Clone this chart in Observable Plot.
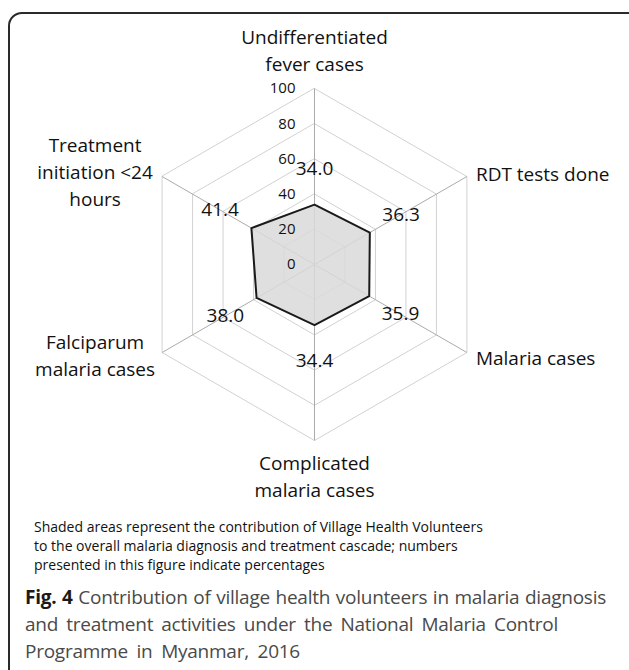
<!DOCTYPE html>
<html>
<head>
<meta charset="utf-8">
<script src="https://cdn.jsdelivr.net/npm/d3@7"></script>
<script src="https://cdn.jsdelivr.net/npm/@observablehq/plot@0.6"></script>
<style>
  html, body { margin: 0; padding: 0; background: #fff; }
  body { width: 629px; height: 670px; overflow: hidden; position: relative; font-family: "Open Sans", sans-serif; }
  #frame { position: absolute; left: 8px; top: 12px; width: 640px; height: 720px; border: 2px solid #2a2a2a; border-radius: 14px; box-sizing: border-box; }
  #chart { position: absolute; left: 0; top: -2px; }
  #note { position: absolute; left: 34px; top: 517px; font-size: 14px; line-height: 19px; color: #111; white-space: nowrap; }
  #caption { position: absolute; left: 25px; top: 584px; font-size: 19px; line-height: 27px; color: #4a4a4a; white-space: nowrap; letter-spacing: -0.25px; }
  #caption div { width: 581px; }
  #caption .j { text-align: justify; text-align-last: justify; }
  #caption .l3 { width: auto; word-spacing: 4px; }
  #caption b { color: #1a1a1a; }
</style>
</head>
<body>
<div id="frame"></div>
<div id="chart"></div>
<div id="note">Shaded areas represent the contribution of Village Health Volunteers<br>to the overall malaria diagnosis and treatment cascade; numbers<br>presented in this figure indicate percentages</div>
<div id="caption"><div class="j"><b>Fig. 4</b> Contribution of village health volunteers in malaria diagnosis</div><div class="j" style="width:533px">and treatment activities under the National Malaria Control</div><div class="l3">Programme in Myanmar, 2016</div></div>
<script>
const categories = [
  "Undifferentiated\nfever cases",
  "RDT tests done",
  "Malaria cases",
  "Complicated\nmalaria cases",
  "Falciparum\nmalaria cases",
  "Treatment\ninitiation <24\nhours"
];
const values = [34.0, 36.3, 35.9, 34.4, 38.0, 41.4];
const tickValues = [0, 20, 40, 60, 80, 100];

const n = categories.length;
const ang = i => (i * 2 * Math.PI) / n;
const px = (i, r) => r * Math.sin(ang(i));
const py = (i, r) => r * Math.cos(ang(i));

// grid rings
const rings = [];
for (const t of tickValues.filter(t => t > 0)) {
  for (let i = 0; i < n; i++) rings.push({t, x: px(i, t), y: py(i, t)});
}
// spokes
const spokes = categories.map((c, i) => ({i, x1: 0, y1: 0, x2: px(i, 100), y2: py(i, 100)}));
// data polygon
const poly = values.map((v, i) => ({x: px(i, v), y: py(i, v), v}));
// data labels
const labelR = v => v + 20.5;
const dataLabels = values.map((v, i) => ({x: px(i, labelR(v)), y: py(i, labelR(v)), text: v.toFixed(1)}));
// axis labels
const catLayout = categories.map((c, i) => {
  const a = ang(i);
  const s = Math.sin(a), co = Math.cos(a);
  let anchor = "middle", dx = 0, dy = 0;
  if (Math.abs(s) < 1e-6) { dy = co > 0 ? -40 : 34; }
  else if (s > 0) { anchor = "start"; dx = 9; dy = co > 0 ? -4 : 4; }
  else { anchor = "middle"; dx = -67; dy = co > 0 ? -6 : 1; }
  return {x: px(i, 100), y: py(i, 100), text: c, anchor, dx, dy};
});

const R = 176;
const cx = 314, cy = 266;
const chart = Plot.plot({
  width: 629,
  height: 512,
  margin: 0,
  x: {domain: [-100, 100], range: [cx - R, cx + R], axis: null},
  y: {domain: [-100, 100], range: [cy + R, cy - R], axis: null},
  style: {fontFamily: "Open Sans, sans-serif", color: "#111", background: "transparent"},
  marks: [
    Plot.line(rings, {x: "x", y: "y", z: "t", curve: "linear-closed", stroke: "#d2d2d2", strokeWidth: 1}),
    Plot.link(spokes, {x1: "x1", y1: "y1", x2: "x2", y2: "y2", stroke: "#ababab", strokeWidth: 1}),
    Plot.line(poly, {x: "x", y: "y", curve: "linear-closed", fill: "#d9d9d9", fillOpacity: 0.85, stroke: "#1a1a1a", strokeWidth: 2}),
    Plot.text(tickValues, {x: 0, y: d => d, text: d => String(d), textAnchor: "end", dx: -19, fontSize: 15, fill: "#111"}),
    Plot.text(dataLabels, {x: "x", y: "y", text: "text", fontSize: 19, fill: "#111"}),
    ...catLayout.map(d => Plot.text([d], {x: "x", y: "y", text: "text", textAnchor: d.anchor, dx: d.dx, dy: d.dy, fontSize: 19, lineHeight: 1.42, fill: "#111"}))
  ]
});
document.getElementById("chart").appendChild(chart);
</script>
</body>
</html>
